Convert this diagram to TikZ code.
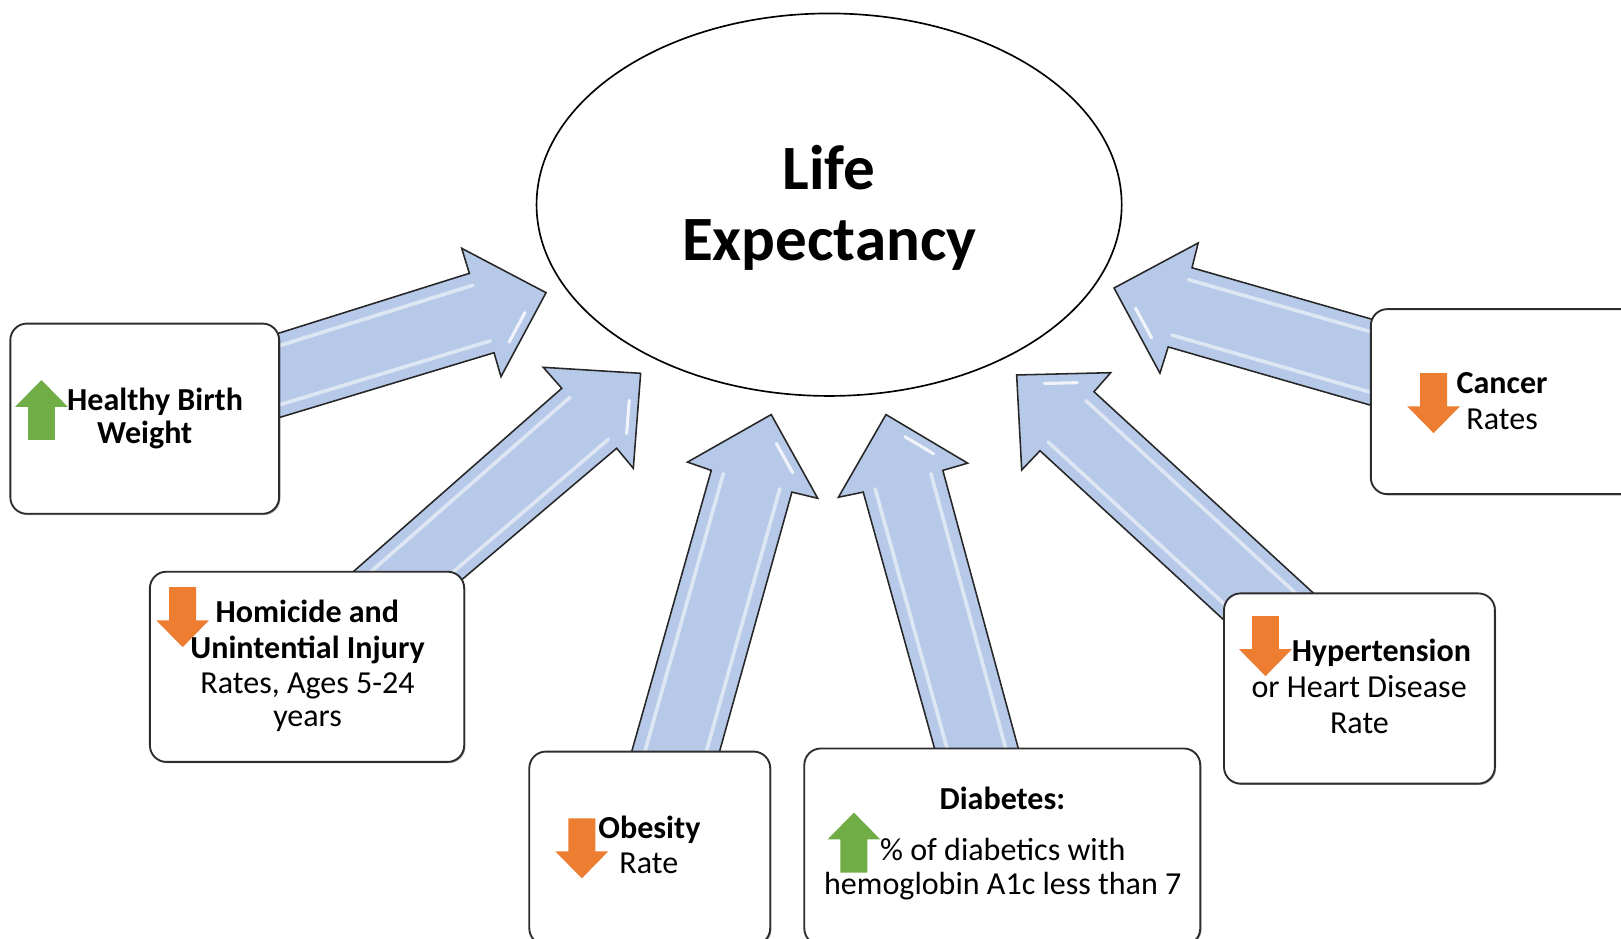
\documentclass[tikz,border=0pt]{standalone}
\usepackage{fontspec}
\setmainfont{Carlito}
\usetikzlibrary{shapes.geometric,calc,shadows}
\definecolor{arrowblue}{RGB}{182,201,232}
\definecolor{upgreen}{RGB}{112,173,71}
\definecolor{downorange}{RGB}{237,125,49}
\definecolor{boxline}{RGB}{45,45,45}
\tikzset{
  hl/.style={white, opacity=0.55, line width=3.5pt, line cap=round},
  arrowline/.style={draw=black!85, line width=1.5pt, line join=miter},
  box/.style={draw=boxline, line width=1.8pt, fill=white, rounded corners=16pt, inner sep=0pt,
     drop shadow={shadow xshift=1.2pt, shadow yshift=-1.2pt, opacity=0.35, fill=black}},
  txt/.style={inner sep=0pt, anchor=base, font=\fontsize{31}{34}\selectfont},
  bigtxt/.style={inner sep=0pt, anchor=base, font=\fontsize{61}{69}\selectfont\bfseries},
}
\newcommand{\bigarrowshape}[1]{%
  \fill[arrowblue] (#1tl) -- (#1nl) -- (#1bl) -- (#1tip) -- (#1br) -- (#1nr) -- (#1tr) -- cycle;
  \draw[hl] ($(#1nl)!0.15!(#1nr)$) -- ($(#1tl)!0.15!(#1tr)$);
  \draw[hl] ($(#1nr)!0.15!(#1nl)$) -- ($(#1tr)!0.15!(#1tl)$);
  \coordinate (#1ha) at ($(#1tip)!0.3!(#1br)$);
  \coordinate (#1hb) at ($(#1tip)!0.7!(#1br)$);
  \draw[white, opacity=0.8, line width=3pt, line cap=round] ($(#1ha)!0.12!(#1nl)$) -- ($(#1hb)!0.12!(#1nl)$);
  \draw[arrowline] (#1tl) -- (#1nl) -- (#1bl) -- (#1tip) -- (#1br) -- (#1nr) -- (#1tr);
}
\newcommand{\upmark}[2]{%
  \fill[upgreen] (#1,#2) -- ++(25.5,26) -- ++(-12.5,0) -- ++(0,32) -- ++(-26,0) -- ++(0,-32) -- ++(-12.5,0) -- cycle;}
\newcommand{\downmark}[2]{%
  \fill[downorange] (#1-13,#2) -- ++(26,0) -- ++(0,32) -- ++(12.5,0) -- ++(-25.5,26) -- ++(-25.5,-26) -- ++(12.5,0) -- cycle;}
\begin{document}
\begin{tikzpicture}[x=1pt,y=-1pt]
\fill[white] (0,0) rectangle (1568,908);
\useasboundingbox (0,0) rectangle (1568,908);

% ---------- central ellipse ----------
\node[draw=black, line width=1.6pt, ellipse, minimum width=566pt, minimum height=370pt, inner sep=0pt] (life) at (802,198) {};
\node[bigtxt] (life1) at (802,183) {Life};
\node[bigtxt] (life2) at (802,252) {Expectancy};

% ---------- block arrow coordinates ----------
% A1: Healthy Birth Weight
\coordinate (a1tl) at (240,331.6); \coordinate (a1nl) at (454,264.4); \coordinate (a1bl) at (446.6,240.2);
\coordinate (a1tip) at (528.2,283.1); \coordinate (a1br) at (484.6,364.4); \coordinate (a1nr) at (477.9,341.2);
\coordinate (a1tr) at (240,413);
% A2: Homicide
\coordinate (a2tl) at (311,580); \coordinate (a2nl) at (543.4,375.6); \coordinate (a2bl) at (525.5,355.3);
\coordinate (a2tip) at (619.7,361.1); \coordinate (a2br) at (612.6,453); \coordinate (a2nr) at (596.5,433.6);
\coordinate (a2tr) at (424,580);
% A3: Obesity
\coordinate (a3tl) at (601.7,760); \coordinate (a3nl) at (688,455); \coordinate (a3bl) at (665,447);
\coordinate (a3tip) at (746,401); \coordinate (a3br) at (791,482); \coordinate (a3nr) at (766,476);
\coordinate (a3tr) at (686.8,760);
% A4: Diabetes
\coordinate (a4tl) at (914,760); \coordinate (a4nl) at (835,476); \coordinate (a4bl) at (811,481);
\coordinate (a4tip) at (857,401); \coordinate (a4br) at (936,448); \coordinate (a4nr) at (912,455);
\coordinate (a4tr) at (994.8,760);
% A5: Hypertension
\coordinate (a5tl) at (1215,628.4); \coordinate (a5nl) at (1006,436); \coordinate (a5bl) at (988.3,454.6);
\coordinate (a5tip) at (983.4,362.7); \coordinate (a5br) at (1074.4,360.5); \coordinate (a5nr) at (1058.2,378.9);
\coordinate (a5tr) at (1310,610);
% A6: Cancer
\coordinate (a6tl) at (1360,318.2); \coordinate (a6nl) at (1153,259); \coordinate (a6bl) at (1159,235);
\coordinate (a6tip) at (1077.6,278.6); \coordinate (a6br) at (1122,361); \coordinate (a6nr) at (1130,335.6);
\coordinate (a6tr) at (1360,401.8);

\bigarrowshape{a1}
\bigarrowshape{a2}
\bigarrowshape{a3}
\bigarrowshape{a4}
\bigarrowshape{a5}
\bigarrowshape{a6}

% ---------- boxes ----------
\node[box, minimum width=260pt, minimum height=184pt] (hbw) at (140,405) {};
\node[box, minimum width=304pt, minimum height=184pt] (hom) at (297,645) {};
\node[box, minimum width=233pt, minimum height=187pt] (obe) at (628.5,820.5) {};
\node[box, minimum width=383pt, minimum height=190pt] (dia) at (969.5,819) {};
\node[box, minimum width=262pt, minimum height=184pt] (hyp) at (1315,666) {};
\node[box, minimum width=274pt, minimum height=179pt] (can) at (1463,388.5) {};

% ---------- small indicator arrows ----------
\upmark{40.1}{367.6}
\upmark{826}{786}
\downmark{176.7}{568}
\downmark{562.8}{791.6}
\downmark{1224.1}{596}
\downmark{1386.7}{361}

% ---------- texts ----------
\node[txt] (hbw1) at (150,397) {\bfseries Healthy Birth};
\node[txt] (hbw2) at (140,429) {\bfseries Weight};

\node[txt] (hom1) at (297.3,602.3) {\bfseries Homicide and};
\node[txt] (hom2) at (297.5,636.8) {\bfseries Unintential Injury};
\node[txt] (hom3) at (297.5,670.7) {Rates, Ages 5-24};
\node[txt] (hom4) at (297.5,702.9) {years};

\node[txt] (obe1) at (628.2,810.9) {\bfseries Obesity};
\node[txt] (obe2) at (627.6,844.8) {Rate};

\node[txt] (dia1) at (969.6,783.5) {\bfseries Diabetes:};
\node[txt] (dia2) at (970,831.9) {\% of diabetics with};
\node[txt] (dia3) at (970,865.7) {hemoglobin A1c less than 7};

\node[txt] (hyp1) at (1336.2,640) {\bfseries Hypertension};
\node[txt] (hyp2) at (1314.7,674.5) {or Heart Disease};
\node[txt] (hyp3) at (1315,709.3) {Rate};

\node[txt] (can1) at (1453,380.5) {\bfseries Cancer};
\node[txt] (can2) at (1453,415.3) {Rates};
\end{tikzpicture}
\end{document}
